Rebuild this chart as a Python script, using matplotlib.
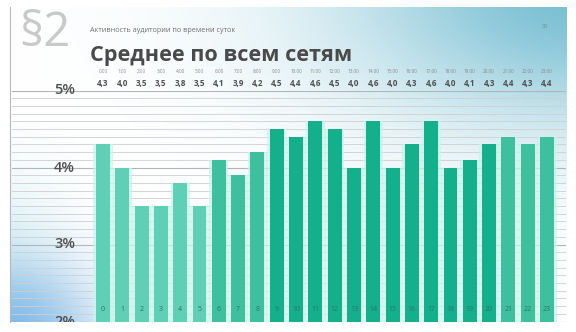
import numpy as np
import matplotlib
matplotlib.use("Agg")
import matplotlib.pyplot as plt
from matplotlib.patches import Rectangle
from matplotlib.transforms import blended_transform_factory

# data
hours = list(range(24))
hour_labels = [f"{h}:00" for h in hours]
values = [4.3, 4.0, 3.5, 3.5, 3.8, 3.5, 4.1, 3.9, 4.2, 4.5, 4.4, 4.6,
          4.5, 4.0, 4.6, 4.0, 4.3, 4.6, 4.0, 4.1, 4.3, 4.4, 4.3, 4.4]
value_labels = [f"{v:.1f}".replace(".", ",") for v in values]
y_ticks = [2, 3, 4, 5]
y_tick_labels = ["2%", "3%", "4%", "5%"]
# shade group per hour: 0 light, 1 medium, 2 dark
shade = [0] * 6 + [1] * 3 + [2] * 12 + [1] * 3

_LIGHT = "#5fcfb6"
_MED = "#3ec09e"
_DARK = "#14b08b"
_TEXT = "#505050"
FONT = ["Open Sans", "DejaVu Sans"]

W, H = 576, 332
fig = plt.figure(figsize=(W / 100, H / 100), dpi=100, facecolor="white")

# slide background with soft gradients
bg = fig.add_axes([0, 0, 1, 1])
bg.set_xlim(0, W)
bg.set_ylim(H, 0)
bg.axis("off")
sx0, sx1, sy0, sy1 = 10, 567, 7, 322
xx, yy = np.meshgrid(np.arange(sx0, sx1), np.arange(sy0, sy1))
img = np.ones(xx.shape + (3,))
def blend(img, w, col):
    w = np.clip(w, 0, 1)[..., None]
    return img * (1 - w) + np.array(col) / 255.0 * w
w1 = np.exp(-((xx - 600) / 260.0) ** 2 - ((yy + 10) / 135.0) ** 2)
img = blend(img, w1 * 1.0, (118, 190, 210))
w3 = np.clip((95 - xx) / 85.0, 0, 1) * np.clip((yy - 110) / 200.0, 0, 1)
img = blend(img, w3 * 0.6, (190, 232, 235))
w2 = np.exp(-((xx - 5) / 90.0) ** 2 - ((yy - 335) / 75.0) ** 2)
img = blend(img, w2 * 0.95, (125, 182, 232))
bg.imshow(img, extent=(sx0, sx1, sy1, sy0), aspect="auto", zorder=0)
bg.plot([sx0, sx0], [sy0, sy1], color="#b8b8b8", lw=0.8, zorder=1)
slide_clip = Rectangle((sx0, sy0), sx1 - sx0, sy1 - sy0, transform=bg.transData)

bg.text(19, 33, "§2", fontsize=34, color="#c9c9c9", family=FONT,
        ha="left", va="center")
bg.text(90, 30, "Активность аудитории по времени суток", fontsize=5.2,
        color="#707070", family=FONT, ha="left", va="center")
bg.text(90, 55, "Среднее по всем сетям", fontsize=15.6, color="#4a4a4a",
        family=FONT, weight="bold", ha="left", va="center")
bg.text(545, 27, "30", fontsize=3.8, color="#808080", family=FONT,
        ha="center", va="center")

# chart axes
left_px, right_px, top_px, bot_px = 12, 566, 90.5, 322
ax = fig.add_axes([left_px / W, 1 - bot_px / H,
                   (right_px - left_px) / W, (bot_px - top_px) / H])
ax.patch.set_alpha(0)
step = (547 - 103) / 23.0
ax.set_xlim(-(103 - left_px) / step, 23 + (right_px - 547) / step)
ax.set_ylim(2 - 0.5 / 77, 5.0)
for s in ax.spines.values():
    s.set_visible(False)
ax.set_xticks([])
ax.set_yticks([])

for g in np.round(np.arange(2.0, 5.01, 0.1), 1):
    major = abs(g - round(g)) < 1e-6
    ax.axhline(g, color="#b4b4b4" if major else "#cfcfcf",
               lw=0.8 if major else 0.6, zorder=1)

palette = [_LIGHT, _MED, _DARK]
colors = [palette[s] for s in shade]
ax.bar(hours, values, width=1.0, bottom=0, color="#c9f4ec", alpha=0.75, zorder=2)
ax.bar(hours, values, width=0.72, color=colors, zorder=3)

tr = blended_transform_factory(ax.transData, ax.transAxes)
for h, hl, vl in zip(hours, hour_labels, value_labels):
    ax.text(h, 1.084, hl, transform=tr, fontsize=3.3, color="#8a8a8a",
            family=FONT, ha="center", va="center")
    ax.text(h, 1.032, vl, transform=tr, fontsize=5.8, color=_TEXT,
            family=FONT, weight="bold", ha="center", va="center")
    ax.text(h, 0.056, str(h), transform=tr, fontsize=5, color="#2f7468",
            family=FONT, ha="center", va="center", zorder=4)

lab_x = (75 - 103) / step
for t, tl in zip(y_ticks, y_tick_labels):
    txt = ax.text(lab_x, t, tl, fontsize=10.5, color=_TEXT, family=FONT,
                  weight="semibold", ha="right", va="center", zorder=4,
                  clip_on=True)
    txt.set_clip_box(None)
    txt.set_clip_path(slide_clip)

fig.savefig("out.png", dpi=100, facecolor="white")
